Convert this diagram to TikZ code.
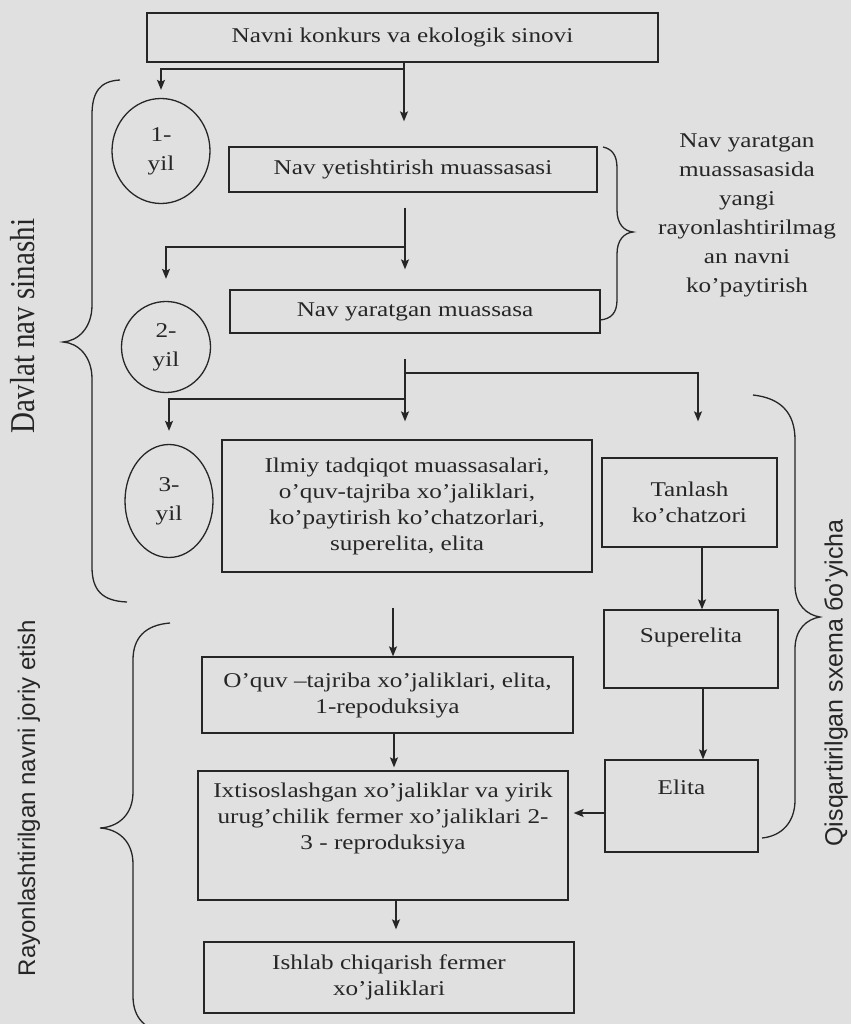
\documentclass[tikz,border=0pt]{standalone}
\usepackage{fontspec}
\usepackage{graphicx}
\setmainfont{Liberation Serif}[FakeStretch=1.2]
\newfontfamily\plainserif{Liberation Serif}
\newfontfamily\plainsans{Liberation Sans}
\usetikzlibrary{arrows.meta,shapes.geometric,calc}
\definecolor{bgc}{gray}{0.88}
\definecolor{ink}{gray}{0.15}
\begin{document}
\begin{tikzpicture}[x=1pt,y=-1pt,
  box/.style={draw=ink, line width=1.3pt, rectangle, inner sep=0pt, align=center,
    font=\fontsize{21}{26}\selectfont, text=ink},
  oval/.style={draw=ink, line width=1.3pt, ellipse, inner sep=0pt, align=center,
    font=\fontsize{21}{29}\selectfont, text=ink},
  arr/.style={draw=ink, line width=1.3pt, -{Stealth[length=10pt,width=8pt,inset=2pt]}},
  brace/.style={draw=ink, line width=1.3pt},
  lbl/.style={text=ink, align=center, font=\fontsize{21}{29}\selectfont}]
\useasboundingbox (0,0) rectangle (851,1024);
\clip (0,0) rectangle (851,1024);
\fill[bgc] (0,0) rectangle (851,1024);

% boxes
\node[box, minimum width=511pt, minimum height=49pt] (b1) at (402.5,37.5) {Navni konkurs va ekologik sinovi};
\node[box, minimum width=368pt, minimum height=45pt] (b2) at (413,169.5) {Nav yetishtirish muassasasi};
\node[box, minimum width=370pt, minimum height=43pt] (b3) at (415,311.5) {Nav yaratgan muassasa};
\node[box, minimum width=370pt, minimum height=132pt] (b4) at (407,506) {Ilmiy tadqiqot muassasalari,\\o’quv-tajriba xo’jaliklari,\\ko’paytirish ko’chatzorlari,\\superelita, elita};
\node[box, minimum width=175pt, minimum height=89pt] (b5) at (689.5,502.5) {Tanlash\\ko’chatzori};
\node[box, minimum width=174pt, minimum height=78pt, text depth=28pt] (b6) at (691,649) {Superelita};
\node[box, minimum width=153pt, minimum height=92pt, text depth=38pt] (b7) at (681.5,806) {Elita};
\node[box, minimum width=371pt, minimum height=76pt] (b8) at (387.5,695) {O’quv –tajriba xo’jaliklari, elita,\\1-repoduksiya};
\node[box, minimum width=370pt, minimum height=129pt, text depth=38pt] (b9) at (383,835.5) {Ixtisoslashgan xo’jaliklar va yirik\\urug’chilik fermer xo’jaliklari 2-\\3 - reproduksiya};
\node[box, minimum width=370pt, minimum height=71pt] (b10) at (389,977.5) {Ishlab chiqarish fermer\\xo’jaliklari};

% year ovals
\node[oval, minimum width=98pt, minimum height=105pt] (c1) at (161,151) {1-\\yil};
\node[oval, minimum width=89pt, minimum height=91pt] (c2) at (166,347) {2-\\yil};
\node[oval, minimum width=88pt, minimum height=113pt] (c3) at (169,501) {3-\\yil};

% right label
\node[lbl] (t1) at (747,215) {Nav yaratgan\\muassasasida\\yangi\\rayonlashtirilmag\\an navni\\ko’paytirish};

% side labels
\node[text=ink, rotate=90, inner sep=0pt, font=\plainserif\fontsize{29}{29}\selectfont] (davlat) at (23,326) {\scalebox{1}[1.2]{Davlat nav sinashi}};
\node[text=ink, rotate=90, inner sep=0pt, font=\plainsans\fontsize{24}{24}\selectfont] (rayon) at (29,798) {Rayonlashtirilgan navni joriy etish};
\node[text=ink, rotate=90, inner sep=0pt, font=\plainsans\fontsize{25}{25}\selectfont] (qisq) at (836,683) {Qisqartirilgan sxema бo’yicha};

% junction coordinates
\coordinate (j1) at (404,69);
\coordinate (j2) at (405,247);
\coordinate (j3r) at (405,373);
\coordinate (j3l) at (405,399);
\coordinate (k4) at (393,0);
\coordinate (k8) at (394,0);
\coordinate (k9) at (396,0);
\coordinate (k5) at (702,0);
\coordinate (k6) at (703,0);
\coordinate (k7) at (0,813);
\coordinate (k5t) at (698,0);

% connectors
\draw[arr, shorten >=25pt] (b1.south -| j1) -- (b2.north -| j1);
\draw[arr, shorten >=8pt] (j1) -| (c1.north);
\draw[arr, shorten <=15pt, shorten >=20pt] (b2.south -| j2) -- (b3.north -| j2);
\draw[arr, shorten >=22pt] (j2) -| (c2.north);
\draw[arr, shorten <=25pt, shorten >=18pt] (b3.south -| j3r) -- (b4.north -| j3r);
\draw[arr, shorten >=36pt] (j3r) -| (b5.north -| k5t);
\draw[arr, shorten >=13pt] (j3l) -| (c3.north);
\draw[arr, shorten <=35pt] (b4.south -| k4) -- (b8.north -| k4);
\draw[arr, shorten >=3pt] (b8.south -| k8) -- (b9.north -| k8);
\draw[arr, shorten >=12pt] (b9.south -| k9) -- (b10.north -| k9);
\draw[arr] (b5.south -| k5) -- (b6.north -| k5);
\draw[arr] (b6.south -| k6) -- (b7.north -| k6);
\draw[arr, shorten >=5pt] (b7.west |- k7) -- (b9.east |- k7);

% braces
\draw[brace] (120,80) .. controls (100,81) and (92,92) .. (92,115) -- (92,305)
  .. controls (92,328) and (78,341) .. (63,342)
  .. controls (78,343) and (92,356) .. (92,379) -- (92,567)
  .. controls (92,590) and (102,601) .. (127,602);
\draw[brace] (170,623) .. controls (145,625) and (133,638) .. (133,660) -- (133,792)
  .. controls (133,815) and (118,827) .. (100,828)
  .. controls (118,829) and (133,841) .. (133,864) -- (133,996)
  .. controls (133,1018) and (145,1031) .. (170,1033);
\draw[brace] (603,147) .. controls (612,149) and (617,155) .. (617,168) -- (617,210)
  .. controls (617,224) and (624,231) .. (633,232)
  .. controls (624,233) and (617,240) .. (617,254) -- (617,300)
  .. controls (617,313) and (611,319) .. (600,320);
\draw[brace] (753,395) .. controls (780,398) and (795,412) .. (795,440) -- (795,585)
  .. controls (795,605) and (807,615) .. (820,617)
  .. controls (807,619) and (795,629) .. (795,649) -- (795,800)
  .. controls (795,822) and (782,836) .. (762,838);
\end{tikzpicture}
\end{document}
